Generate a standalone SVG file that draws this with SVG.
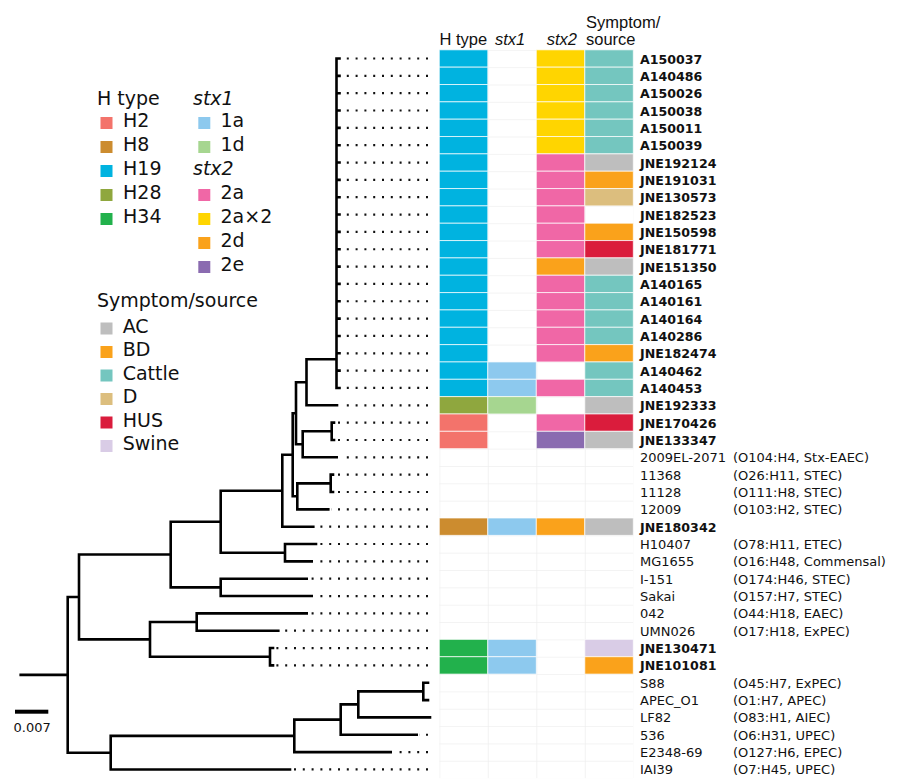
<svg xmlns="http://www.w3.org/2000/svg" width="900" height="784" viewBox="0 0 900 784">
<style>
text{font-family:"DejaVu Sans",Verdana,sans-serif;fill:#111}
.lg{font-size:19px}
.it{font-style:italic}
.hd{font-family:"Liberation Sans",Arial,sans-serif;font-size:16.5px}
.n{font-size:13px}
.b{font-size:12.6px;font-weight:bold}
.c{stroke:#fff;stroke-width:1;stroke-opacity:0.7}
.h2{fill:#F3736B}.h8{fill:#CC8C2F}.h19{fill:#00B3E0}.h28{fill:#8FA73E}.h34{fill:#22B14C}
.s1a{fill:#8DC9EE}.s1d{fill:#A6D690}
.s2a{fill:#F067A6}.s2x{fill:#FFD500}.s2d{fill:#FAA21B}.s2e{fill:#8A6BB0}
.ac{fill:#BEBEBE}.bd{fill:#FAA21B}.ca{fill:#74C6BF}.d{fill:#DCBE7E}.hus{fill:#DA1C3C}.sw{fill:#D9CCE6}
.tree{fill:none;stroke:#000;stroke-width:2.6;stroke-linecap:square}
.dots{fill:none;stroke:#111;stroke-width:2.2;stroke-dasharray:2 6.8}
</style>
<defs>
<pattern id="grid" x="439.3" y="49.83" width="48.5" height="17.34" patternUnits="userSpaceOnUse">
<path d="M0 0.3H48.5M0.3 0V17.34" fill="none" stroke="#efefef" stroke-width="1"/>
</pattern>
</defs>
<rect width="900" height="784" fill="#fff"/>

<g id="legend">
<text class="lg" x="97" y="105">H type</text>
<rect class="h2" x="100.5" y="117" width="12" height="12"/><text class="lg" x="123" y="127">H2</text>
<rect class="h8" x="100.5" y="141" width="12" height="12"/><text class="lg" x="123" y="151">H8</text>
<rect class="h19" x="100.5" y="165" width="12" height="12"/><text class="lg" x="123" y="175">H19</text>
<rect class="h28" x="100.5" y="189" width="12" height="12"/><text class="lg" x="123" y="199">H28</text>
<rect class="h34" x="100.5" y="213" width="12" height="12"/><text class="lg" x="123" y="223">H34</text>
<text class="lg it" x="193" y="105">stx1</text>
<rect class="s1a" x="198.3" y="117" width="12" height="12"/><text class="lg" x="220.5" y="127">1a</text>
<rect class="s1d" x="198.3" y="141" width="12" height="12"/><text class="lg" x="220.5" y="151">1d</text>
<text class="lg it" x="193" y="175">stx2</text>
<rect class="s2a" x="198.3" y="189" width="12" height="12"/><text class="lg" x="220.5" y="199">2a</text>
<rect class="s2x" x="198.3" y="213" width="12" height="12"/><text class="lg" x="220.5" y="223">2a×2</text>
<rect class="s2d" x="198.3" y="237" width="12" height="12"/><text class="lg" x="220.5" y="247">2d</text>
<rect class="s2e" x="198.3" y="261" width="12" height="12"/><text class="lg" x="220.5" y="271">2e</text>
<text class="lg" x="97" y="307">Symptom/source</text>
<rect class="ac" x="100.5" y="322.5" width="12" height="12"/><text class="lg" x="122.7" y="332.5">AC</text>
<rect class="bd" x="100.5" y="346" width="12" height="12"/><text class="lg" x="122.7" y="356">BD</text>
<rect class="ca" x="100.5" y="369.5" width="12" height="12"/><text class="lg" x="122.7" y="379.5">Cattle</text>
<rect class="d" x="100.5" y="393" width="12" height="12"/><text class="lg" x="122.7" y="403">D</text>
<rect class="hus" x="100.5" y="416.5" width="12" height="12"/><text class="lg" x="122.7" y="426.5">HUS</text>
<rect class="sw" x="100.5" y="440" width="12" height="12"/><text class="lg" x="122.7" y="450">Swine</text>
</g>

<g id="header">
<text class="hd" x="439.5" y="45">H type</text>
<text class="hd it" x="495" y="45">stx1</text>
<text class="hd it" x="546.7" y="45">stx2</text>
<text class="hd" x="586" y="27.5">Symptom/</text>
<text class="hd" x="586" y="44.5">source</text>
</g>

<g id="grid-bg">
<rect x="439.3" y="49.83" width="194" height="728.28" fill="url(#grid)"/>
</g>

<g id="connectors">
<path class="tree" d="M336.5 58.5V387.96
M336.5 58.5H339.5M336.5 75.84H339.5M336.5 93.18H339.5M336.5 110.52H339.5M336.5 127.86H339.5M336.5 145.2H339.5M336.5 162.54H339.5M336.5 179.88H339.5M336.5 197.22H339.5M336.5 214.56H339.5M336.5 231.9H339.5M336.5 249.24H339.5M336.5 266.58H339.5M336.5 283.92H339.5M336.5 301.26H339.5M336.5 318.6H339.5M336.5 335.94H339.5M336.5 353.28H339.5M336.5 370.62H339.5M336.5 387.96H339.5
M306.5 359.3H336.5M306.5 359.3V405.3M306.5 405.3H337
M331.7 422.64V439.98M331.7 422.64H334M331.7 439.98H334
M302.7 431.3H331.7M302.7 431.3V457.32M302.7 457.32H336.7
M296 444.3H302.7M296 382.3H306.5M296 382.3V444.3
M292.7 413.3H296
M330.7 474.66V492M330.7 474.66H333M330.7 492H333
M297.3 483.33H330.7M297.3 483.33V509.34M297.3 509.34H328.3
M292.7 496.3H297.3M292.7 413.3V496.3
M282.3 454.8H292.7M282.3 454.8V526.68M282.3 526.68H313.3
M220.7 490.7H282.3
M285 544.02V561.36M285 544.02H316M285 561.36H311.7
M220.7 552.7H285M220.7 490.7V552.7
M170.7 521.7H220.7
M220.7 578.7V596.04M220.7 578.7H306.7M220.7 596.04H311.7
M170.7 587.4H220.7M170.7 521.7V587.4
M79 554.5H170.7
M196.7 613.38V630.72M196.7 613.38H306.7M196.7 630.72H278.3
M150 622.05H196.7
M270 648.06V665.4M270 648.06H273M270 665.4H273
M150 656.7H270M150 622.05V656.7
M79 639.4H150M79 554.5V639.4
M67.7 597H79
M423.3 682.74V700.08M423.3 682.74H428M423.3 700.08H428
M358.3 691.4H423.3M358.3 691.4V717.42M358.3 717.42H430
M340.7 704.4H358.3M340.7 704.4V734.76M340.7 734.76H416.7
M294.3 719.6H340.7M294.3 719.6V752.1M294.3 752.1H390.7
M110.7 735.9H294.3M110.7 735.9V769.44M110.7 769.44H290
M67.7 752.7H110.7M67.7 597V752.7
M20.7 674.85H67.7"/>
<path class="dots" d="M428 58.5H341M428 75.84H341M428 93.18H341M428 110.52H341M428 127.86H341M428 145.2H341M428 162.54H341M428 179.88H341M428 197.22H341M428 214.56H341M428 231.9H341M428 249.24H341M428 266.58H341M428 283.92H341M428 301.26H341M428 318.6H341M428 335.94H341M428 353.28H341M428 370.62H341M428 387.96H341
M428 405.3H340M428 422.64H337M428 439.98H337M428 457.32H340M428 474.66H336M428 492H336M428 509.34H331M428 526.68H316M428 544.02H319M428 561.36H314M428 578.7H309M428 596.04H314M428 613.38H309M428 630.72H281M428 648.06H276M428 665.4H276
M428 734.76H419M428 752.1H393M428 769.44H293"/>
</g>

<g id="scale">
<rect x="15" y="709.7" width="33.3" height="4" fill="#000"/>
<text class="n" x="13.5" y="731.5">0.007</text>
</g>

<g id="r0"><rect class="c h19" x="439.3" y="49.83" width="48.5" height="17.34"/><rect class="c s2x" x="536.3" y="49.83" width="48.5" height="17.34"/><rect class="c ca" x="584.8" y="49.83" width="48.5" height="17.34"/><text class="b" x="640" y="63.5">A150037</text></g>
<g id="r1"><rect class="c h19" x="439.3" y="67.17" width="48.5" height="17.34"/><rect class="c s2x" x="536.3" y="67.17" width="48.5" height="17.34"/><rect class="c ca" x="584.8" y="67.17" width="48.5" height="17.34"/><text class="b" x="640" y="80.84">A140486</text></g>
<g id="r2"><rect class="c h19" x="439.3" y="84.51" width="48.5" height="17.34"/><rect class="c s2x" x="536.3" y="84.51" width="48.5" height="17.34"/><rect class="c ca" x="584.8" y="84.51" width="48.5" height="17.34"/><text class="b" x="640" y="98.18">A150026</text></g>
<g id="r3"><rect class="c h19" x="439.3" y="101.85" width="48.5" height="17.34"/><rect class="c s2x" x="536.3" y="101.85" width="48.5" height="17.34"/><rect class="c ca" x="584.8" y="101.85" width="48.5" height="17.34"/><text class="b" x="640" y="115.52">A150038</text></g>
<g id="r4"><rect class="c h19" x="439.3" y="119.19" width="48.5" height="17.34"/><rect class="c s2x" x="536.3" y="119.19" width="48.5" height="17.34"/><rect class="c ca" x="584.8" y="119.19" width="48.5" height="17.34"/><text class="b" x="640" y="132.86">A150011</text></g>
<g id="r5"><rect class="c h19" x="439.3" y="136.53" width="48.5" height="17.34"/><rect class="c s2x" x="536.3" y="136.53" width="48.5" height="17.34"/><rect class="c ca" x="584.8" y="136.53" width="48.5" height="17.34"/><text class="b" x="640" y="150.2">A150039</text></g>
<g id="r6"><rect class="c h19" x="439.3" y="153.87" width="48.5" height="17.34"/><rect class="c s2a" x="536.3" y="153.87" width="48.5" height="17.34"/><rect class="c ac" x="584.8" y="153.87" width="48.5" height="17.34"/><text class="b" x="640" y="167.54">JNE192124</text></g>
<g id="r7"><rect class="c h19" x="439.3" y="171.21" width="48.5" height="17.34"/><rect class="c s2a" x="536.3" y="171.21" width="48.5" height="17.34"/><rect class="c bd" x="584.8" y="171.21" width="48.5" height="17.34"/><text class="b" x="640" y="184.88">JNE191031</text></g>
<g id="r8"><rect class="c h19" x="439.3" y="188.55" width="48.5" height="17.34"/><rect class="c s2a" x="536.3" y="188.55" width="48.5" height="17.34"/><rect class="c d" x="584.8" y="188.55" width="48.5" height="17.34"/><text class="b" x="640" y="202.22">JNE130573</text></g>
<g id="r9"><rect class="c h19" x="439.3" y="205.89" width="48.5" height="17.34"/><rect class="c s2a" x="536.3" y="205.89" width="48.5" height="17.34"/><text class="b" x="640" y="219.56">JNE182523</text></g>
<g id="r10"><rect class="c h19" x="439.3" y="223.23" width="48.5" height="17.34"/><rect class="c s2a" x="536.3" y="223.23" width="48.5" height="17.34"/><rect class="c bd" x="584.8" y="223.23" width="48.5" height="17.34"/><text class="b" x="640" y="236.9">JNE150598</text></g>
<g id="r11"><rect class="c h19" x="439.3" y="240.57" width="48.5" height="17.34"/><rect class="c s2a" x="536.3" y="240.57" width="48.5" height="17.34"/><rect class="c hus" x="584.8" y="240.57" width="48.5" height="17.34"/><text class="b" x="640" y="254.24">JNE181771</text></g>
<g id="r12"><rect class="c h19" x="439.3" y="257.91" width="48.5" height="17.34"/><rect class="c s2d" x="536.3" y="257.91" width="48.5" height="17.34"/><rect class="c ac" x="584.8" y="257.91" width="48.5" height="17.34"/><text class="b" x="640" y="271.58">JNE151350</text></g>
<g id="r13"><rect class="c h19" x="439.3" y="275.25" width="48.5" height="17.34"/><rect class="c s2a" x="536.3" y="275.25" width="48.5" height="17.34"/><rect class="c ca" x="584.8" y="275.25" width="48.5" height="17.34"/><text class="b" x="640" y="288.92">A140165</text></g>
<g id="r14"><rect class="c h19" x="439.3" y="292.59" width="48.5" height="17.34"/><rect class="c s2a" x="536.3" y="292.59" width="48.5" height="17.34"/><rect class="c ca" x="584.8" y="292.59" width="48.5" height="17.34"/><text class="b" x="640" y="306.26">A140161</text></g>
<g id="r15"><rect class="c h19" x="439.3" y="309.93" width="48.5" height="17.34"/><rect class="c s2a" x="536.3" y="309.93" width="48.5" height="17.34"/><rect class="c ca" x="584.8" y="309.93" width="48.5" height="17.34"/><text class="b" x="640" y="323.6">A140164</text></g>
<g id="r16"><rect class="c h19" x="439.3" y="327.27" width="48.5" height="17.34"/><rect class="c s2a" x="536.3" y="327.27" width="48.5" height="17.34"/><rect class="c ca" x="584.8" y="327.27" width="48.5" height="17.34"/><text class="b" x="640" y="340.94">A140286</text></g>
<g id="r17"><rect class="c h19" x="439.3" y="344.61" width="48.5" height="17.34"/><rect class="c s2a" x="536.3" y="344.61" width="48.5" height="17.34"/><rect class="c bd" x="584.8" y="344.61" width="48.5" height="17.34"/><text class="b" x="640" y="358.28">JNE182474</text></g>
<g id="r18"><rect class="c h19" x="439.3" y="361.95" width="48.5" height="17.34"/><rect class="c s1a" x="487.8" y="361.95" width="48.5" height="17.34"/><rect class="c ca" x="584.8" y="361.95" width="48.5" height="17.34"/><text class="b" x="640" y="375.62">A140462</text></g>
<g id="r19"><rect class="c h19" x="439.3" y="379.29" width="48.5" height="17.34"/><rect class="c s1a" x="487.8" y="379.29" width="48.5" height="17.34"/><rect class="c s2a" x="536.3" y="379.29" width="48.5" height="17.34"/><rect class="c ca" x="584.8" y="379.29" width="48.5" height="17.34"/><text class="b" x="640" y="392.96">A140453</text></g>
<g id="r20"><rect class="c h28" x="439.3" y="396.63" width="48.5" height="17.34"/><rect class="c s1d" x="487.8" y="396.63" width="48.5" height="17.34"/><rect class="c ac" x="584.8" y="396.63" width="48.5" height="17.34"/><text class="b" x="640" y="410.3">JNE192333</text></g>
<g id="r21"><rect class="c h2" x="439.3" y="413.97" width="48.5" height="17.34"/><rect class="c s2a" x="536.3" y="413.97" width="48.5" height="17.34"/><rect class="c hus" x="584.8" y="413.97" width="48.5" height="17.34"/><text class="b" x="640" y="427.64">JNE170426</text></g>
<g id="r22"><rect class="c h2" x="439.3" y="431.31" width="48.5" height="17.34"/><rect class="c s2e" x="536.3" y="431.31" width="48.5" height="17.34"/><rect class="c ac" x="584.8" y="431.31" width="48.5" height="17.34"/><text class="b" x="640" y="444.98">JNE133347</text></g>
<g id="r23"><text class="n" x="640" y="462.32">2009EL-2071</text><text class="n" x="733" y="462.32">(O104:H4, Stx-EAEC)</text></g>
<g id="r24"><text class="n" x="640" y="479.66">11368</text><text class="n" x="733" y="479.66">(O26:H11, STEC)</text></g>
<g id="r25"><text class="n" x="640" y="497">11128</text><text class="n" x="733" y="497">(O111:H8, STEC)</text></g>
<g id="r26"><text class="n" x="640" y="514.34">12009</text><text class="n" x="733" y="514.34">(O103:H2, STEC)</text></g>
<g id="r27"><rect class="c h8" x="439.3" y="518.01" width="48.5" height="17.34"/><rect class="c s1a" x="487.8" y="518.01" width="48.5" height="17.34"/><rect class="c s2d" x="536.3" y="518.01" width="48.5" height="17.34"/><rect class="c ac" x="584.8" y="518.01" width="48.5" height="17.34"/><text class="b" x="640" y="531.68">JNE180342</text></g>
<g id="r28"><text class="n" x="640" y="549.02">H10407</text><text class="n" x="733" y="549.02">(O78:H11, ETEC)</text></g>
<g id="r29"><text class="n" x="640" y="566.36">MG1655</text><text class="n" x="733" y="566.36">(O16:H48, Commensal)</text></g>
<g id="r30"><text class="n" x="640" y="583.7">I-151</text><text class="n" x="733" y="583.7">(O174:H46, STEC)</text></g>
<g id="r31"><text class="n" x="640" y="601.04">Sakai</text><text class="n" x="733" y="601.04">(O157:H7, STEC)</text></g>
<g id="r32"><text class="n" x="640" y="618.38">042</text><text class="n" x="733" y="618.38">(O44:H18, EAEC)</text></g>
<g id="r33"><text class="n" x="640" y="635.72">UMN026</text><text class="n" x="733" y="635.72">(O17:H18, ExPEC)</text></g>
<g id="r34"><rect class="c h34" x="439.3" y="639.39" width="48.5" height="17.34"/><rect class="c s1a" x="487.8" y="639.39" width="48.5" height="17.34"/><rect class="c sw" x="584.8" y="639.39" width="48.5" height="17.34"/><text class="b" x="640" y="653.06">JNE130471</text></g>
<g id="r35"><rect class="c h34" x="439.3" y="656.73" width="48.5" height="17.34"/><rect class="c s1a" x="487.8" y="656.73" width="48.5" height="17.34"/><rect class="c bd" x="584.8" y="656.73" width="48.5" height="17.34"/><text class="b" x="640" y="670.4">JNE101081</text></g>
<g id="r36"><text class="n" x="640" y="687.74">S88</text><text class="n" x="733" y="687.74">(O45:H7, ExPEC)</text></g>
<g id="r37"><text class="n" x="640" y="705.08">APEC_O1</text><text class="n" x="733" y="705.08">(O1:H7, APEC)</text></g>
<g id="r38"><text class="n" x="640" y="722.42">LF82</text><text class="n" x="733" y="722.42">(O83:H1, AIEC)</text></g>
<g id="r39"><text class="n" x="640" y="739.76">536</text><text class="n" x="733" y="739.76">(O6:H31, UPEC)</text></g>
<g id="r40"><text class="n" x="640" y="757.1">E2348-69</text><text class="n" x="733" y="757.1">(O127:H6, EPEC)</text></g>
<g id="r41"><text class="n" x="640" y="774.44">IAI39</text><text class="n" x="733" y="774.44">(O7:H45, UPEC)</text></g>
</svg>
